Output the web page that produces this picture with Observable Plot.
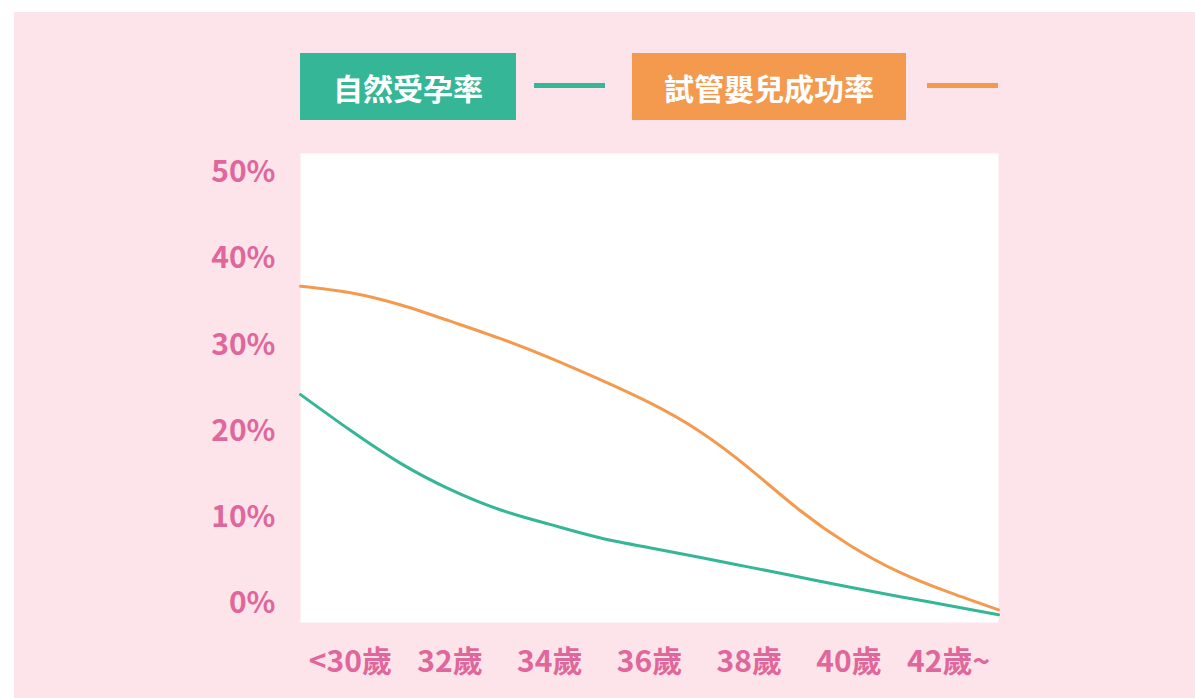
<!DOCTYPE html>
<html>
<head>
<meta charset="utf-8">
<script src="https://cdn.jsdelivr.net/npm/d3@7"></script>
<script src="https://cdn.jsdelivr.net/npm/@observablehq/plot@0.6"></script>
<style>
  html, body { margin: 0; padding: 0; background: #ffffff; width: 1195px; height: 698px; overflow: hidden; }
  #panel { position: absolute; left: 14px; top: 12px; width: 1181px; height: 686px; background: #fce4ea; }
  .lg-box { position: absolute; top: 53px; height: 67px; color: #fff; font-family: "Noto Sans CJK TC", "Noto Sans", sans-serif; font-weight: 700; font-size: 30px; display: flex; align-items: center; justify-content: center; }
  .lg-line { position: absolute; top: 83px; height: 5px; width: 71px; }
  #chart { position: absolute; left: 14px; top: 140px; }
</style>
</head>
<body>
<div id="panel"></div>
<div class="lg-box" style="left:300px;width:216px;background:#35b697;">自然受孕率</div>
<div class="lg-line" style="left:534px;background:#35b697;"></div>
<div class="lg-box" style="left:632px;width:274px;background:#f39a4f;">試管嬰兒成功率</div>
<div class="lg-line" style="left:927px;background:#f39a4f;"></div>
<div id="chart"></div>
<script>
// Ages (29 = left edge "<30", 43 = right edge "42~")
const ages = [29, 30, 31, 32, 33, 34, 35, 36, 37, 38, 39, 40, 41, 42, 43];
// 自然受孕率 (%)
const naturalRate = [24.25, 20.1, 16.3, 13.25, 10.9, 9.2, 7.65, 6.5, 5.4, 4.25, 3.1, 1.95, 0.85, -0.2, -1.27];
// 試管嬰兒成功率 (%)
const ivfRate = [36.8, 36.05, 34.65, 32.75, 30.75, 28.5, 26.0, 23.3, 20.0, 15.7, 10.9, 6.85, 3.7, 1.35, -0.7];
const seriesNames = ["自然受孕率", "試管嬰兒成功率"];
const seriesColors = ["#35b697", "#f39a4f"];
const xTickAges = [30, 32, 34, 36, 38, 40, 42];
const xTickLabels = ["<30歲", "32歲", "34歲", "36歲", "38歲", "40歲", "42歲~"];
const yTicks = [0, 10, 20, 30, 40, 50];

const data = [];
ages.forEach((a, i) => {
  data.push({age: a, value: naturalRate[i], series: seriesNames[0]});
  data.push({age: a, value: ivfRate[i], series: seriesNames[1]});
});

const labelColor = "#e0679b";
const font = "'Noto Sans CJK TC', 'Noto Sans', sans-serif";

const chart = Plot.plot({
  width: 1181,
  height: 558,
  marginLeft: 286,
  marginRight: 197,
  marginTop: 13,
  marginBottom: 76,
  style: {background: "transparent", fontFamily: font, overflow: "visible"},
  x: {domain: [29, 43]},
  y: {domain: [-2.17, 52.18]},
  color: {domain: seriesNames, range: seriesColors},
  marks: [
    Plot.frame({fill: "white", stroke: null}),
    Plot.axisX({
      ticks: xTickAges,
      tickFormat: d => xTickLabels[xTickAges.indexOf(d)],
      tickSize: 0, tickPadding: 28,
      fontSize: 30, fontWeight: 700, color: labelColor, label: null
    }),
    Plot.axisY({
      ticks: yTicks,
      tickFormat: d => d + "%",
      tickSize: 0, tickPadding: 25,
      fontSize: 30, fontWeight: 700, color: labelColor, label: null
    }),
    Plot.line(data, {
      x: "age", y: "value", z: "series", stroke: "series",
      strokeWidth: 3, curve: "natural"
    })
  ]
});
document.getElementById("chart").appendChild(chart);
</script>
</body>
</html>
